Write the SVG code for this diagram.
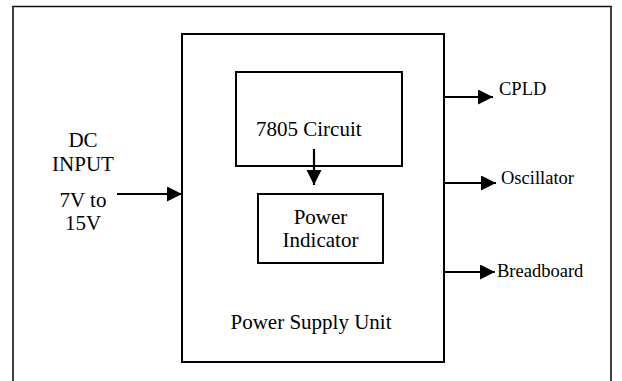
<svg xmlns="http://www.w3.org/2000/svg" width="622" height="381" viewBox="0 0 622 381">
<style>
.box{fill:none;stroke:#000;stroke-width:2}
.frame{fill:none;stroke:#111;stroke-width:1.6}
.wire{fill:none;stroke:#000;stroke-width:2.2}
text{font-family:"Liberation Serif","Times New Roman",serif;fill:#000}
.big{font-size:21px}
.small{font-size:18.5px}
</style>
<defs>
<marker id="ah" markerUnits="userSpaceOnUse" markerWidth="16" markerHeight="16" refX="15" refY="7.5" orient="auto">
<path d="M0,0 L15,7.5 L0,15 Z" fill="#000"/>
</marker>
</defs>
<rect width="622" height="381" fill="#fff"/>
<g id="frame">
<path class="frame" d="M13,390 V6.5 H611 V390"/>
</g>
<g id="psu" font-family="Liberation Serif, Times New Roman, serif">
<rect class="box" x="182" y="34" width="262" height="328"/>
<text class="big" x="311" y="329" text-anchor="middle" font-family="Liberation Serif, serif">Power Supply Unit</text>
</g>
<g id="circuit7805" font-family="Liberation Serif, serif">
<rect class="box" x="236" y="72" width="166" height="94"/>
<text class="big" x="256" y="136" font-family="Liberation Serif, serif">7805 Circuit</text>
</g>
<g id="indicator" font-family="Liberation Serif, serif">
<rect class="box" x="258" y="194" width="125" height="69"/>
<text class="big" x="320.5" y="224" text-anchor="middle" font-family="Liberation Serif, serif">Power</text>
<text class="big" x="320.5" y="247" text-anchor="middle" font-family="Liberation Serif, serif">Indicator</text>
</g>
<g id="dcinput" font-family="Liberation Serif, serif">
<text class="big" x="83" y="147" text-anchor="middle" font-family="Liberation Serif, serif">DC</text>
<text class="big" x="83" y="171" text-anchor="middle" font-family="Liberation Serif, serif">INPUT</text>
<text class="big" x="83" y="207" text-anchor="middle" font-family="Liberation Serif, serif">7V to</text>
<text class="big" x="83" y="230" text-anchor="middle" font-family="Liberation Serif, serif">15V</text>
</g>
<g id="cpld"><text class="small" x="499" y="95" font-family="Liberation Serif, serif">CPLD</text></g>
<g id="oscillator"><text class="small" x="501" y="184" font-family="Liberation Serif, serif">Oscillator</text></g>
<g id="breadboard"><text class="small" x="497" y="277" font-family="Liberation Serif, serif">Breadboard</text></g>
<g id="connectors">
<line class="wire" x1="117" y1="194" x2="182" y2="194" marker-end="url(#ah)"/>
<line class="wire" x1="314" y1="149" x2="314" y2="185" marker-end="url(#ah)"/>
<line class="wire" x1="444" y1="97" x2="493" y2="97" marker-end="url(#ah)"/>
<line class="wire" x1="444" y1="183" x2="496" y2="183" marker-end="url(#ah)"/>
<line class="wire" x1="444" y1="272" x2="495" y2="272" marker-end="url(#ah)"/>
</g>
</svg>
